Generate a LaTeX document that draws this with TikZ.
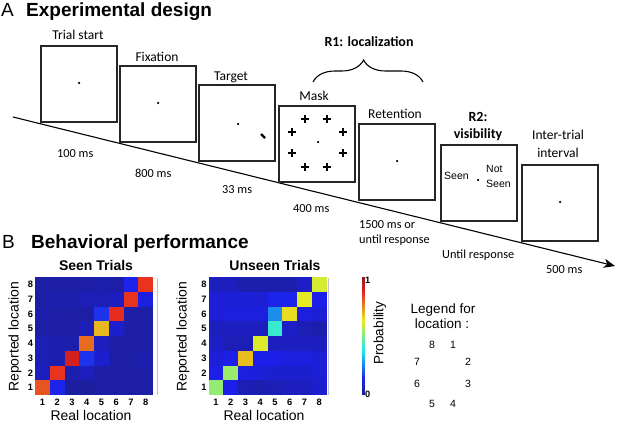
\documentclass[tikz,border=0pt]{standalone}
\usepackage{fontspec}
\usepackage{graphicx}
\setmainfont{Liberation Sans}
\newfontfamily\calfont{Carlito}
\usetikzlibrary{decorations.pathreplacing,arrows.meta}
\newcommand{\setjet}[1]{%
  \pgfmathsetmacro{\jr}{0.8*max(0,min(1,1.5-abs(4*(#1)-3)))+0.11}%
  \pgfmathsetmacro{\jg}{0.8*max(0,min(1,1.5-abs(4*(#1)-2)))+0.12}%
  \pgfmathsetmacro{\jb}{0.8*max(0,min(1,1.5-abs(4*(#1)-1)))+0.12}%
  \definecolor{jetc}{rgb}{\jr,\jg,\jb}}
\tikzset{
  scr/.style={draw=black!85, line width=1.1pt, minimum size=76pt, inner sep=0pt},
  lab/.style={font=\calfont\fontsize{13.5}{15}\selectfont, anchor=base, inner sep=0pt},
  blab/.style={font=\calfont\bfseries\fontsize{14}{16}\selectfont, anchor=base, inner sep=0pt},
  tlab/.style={font=\calfont\fontsize{12.3}{14}\selectfont, anchor=base west, inner sep=0pt},
  head/.style={font=\bfseries\fontsize{19}{22}\selectfont, anchor=base west, inner sep=0pt},
  headl/.style={font=\fontsize{19}{22}\selectfont, anchor=base west, inner sep=0pt},
  mtitle/.style={font=\bfseries\fontsize{14}{16}\selectfont, anchor=base, inner sep=0pt},
  axl/.style={font=\fontsize{14}{16}\selectfont, inner sep=0pt},
  tick/.style={font=\bfseries\fontsize{9.3}{11}\selectfont, inner sep=0pt},
  leg/.style={font=\fontsize{13.5}{15}\selectfont, anchor=base, inner sep=0pt},
  legn/.style={font=\fontsize{10.5}{12}\selectfont, anchor=base, inner sep=0pt},
  dot/.style={fill=black, circle, inner sep=0pt, minimum size=2.5pt},
  crs/.style={line width=1.6pt},
}
\begin{document}
\begin{tikzpicture}[x=1pt,y=-1pt]
\useasboundingbox (0,0) rectangle (617,425);
% headings
\node[headl] (hA) at (1,17) {A};
\node[head] (hAt) at (26,17) {Experimental design};
\node[headl] (hB) at (2,248) {B};
\node[head] (hBt) at (31,248) {Behavioral performance};
% timeline
\coordinate (t0) at (13,117);
\coordinate (t1) at (615,266);
\draw[line width=1.1pt, -{Stealth[length=11pt,width=9pt,inset=3pt]}] (t0) -- (t1);
% screens
\node[scr] (s1) at (79,84) {};
\node[scr] (s2) at (158,104) {};
\node[scr] (s3) at (237,123) {};
\node[scr] (s4) at (317,144) {};
\node[scr] (s5) at (397,162) {};
\node[scr] (s6) at (479,183) {};
\node[scr] (s7) at (560,203) {};
% dots
\node[dot] (d1) at (79,83) {};
\node[dot] (d2) at (158,103) {};
\node[dot] (d3) at (238,124) {};
\node[dot] (d4) at (318,142) {};
\node[dot] (d5) at (397,161) {};
\node[dot] (d6) at (478,180) {};
\node[dot] (d7) at (560,202) {};
% target
\coordinate (ta) at (261,134);
\coordinate (tb) at (265,138);
\draw[line width=2.2pt] (ta) -- (tb);
% mask crosses
\foreach \px/\py in {305/119,327/119,292/132,343/132,292/153,343/153,305/167,327/167}{
  \draw[crs] (\px-4,\py) -- (\px+4,\py);
  \draw[crs] (\px,\py-4) -- (\px,\py+4);
}
% screen labels
\node[lab] (l1) at (78,40) {Trial start};
\node[lab] (l2) at (157,61.5) {Fixation};
\node[lab] (l3) at (231,80.5) {Target};
\node[lab] (l4) at (314,100) {Mask};
\node[lab] (l5) at (395,118) {Retention};
\node[blab] (l6a) at (478,121) {R2:};
\node[blab] (l6b) at (478,138.5) {visibility};
\node[lab] (l7a) at (558,139) {Inter-trial};
\node[lab] (l7b) at (558,157) {interval};
\node[blab] (r1) at (369,47) {R1: localization};
\coordinate (br0) at (313,82);
\coordinate (br1) at (423,82);
\draw[line width=1.1pt, decorate, decoration={brace, amplitude=22pt, aspect=0.46}] (br0) -- (br1);
% inside R2 screen
\node[legn, anchor=base west] (sn) at (444,179) {Seen};
\node[legn, anchor=base west] (ns1) at (486,172) {Not};
\node[legn, anchor=base west] (ns2) at (486,187) {Seen};
% durations
\node[tlab] (m1) at (57,157) {100 ms};
\node[tlab] (m2) at (135,177) {800 ms};
\node[tlab] (m3) at (222,193) {33 ms};
\node[tlab] (m4) at (293,212) {400 ms};
\node[tlab] (m5a) at (359,228) {1500 ms or};
\node[tlab] (m5b) at (359,243) {until response};
\node[tlab] (m6) at (442,258) {Until response};
\node[tlab] (m7) at (546,273) {500 ms};
% matrices
\def\cs{14.75}
\foreach \r/\vals in {8/{0.04,0.04,0.04,0.04,0.05,0.04,0.13,0.85},
                     7/{0.04,0.05,0.05,0.06,0.06,0.07,0.85,0.11},
                     6/{0.05,0.04,0.04,0.04,0.15,0.86,0.04,0.04},
                     5/{0.04,0.04,0.04,0.06,0.69,0.09,0.04,0.04},
                     4/{0.06,0.05,0.05,0.78,0.07,0.04,0.04,0.04},
                     3/{0.06,0.05,0.90,0.15,0.09,0.04,0.04,0.05},
                     2/{0.07,0.85,0.05,0.07,0.04,0.04,0.04,0.04},
                     1/{0.81,0.13,0.03,0.03,0.04,0.04,0.04,0.04}}{
  \foreach \v [count=\c] in \vals {
    \setjet{\v}
    \fill[jetc] ({35+(\c-1)*\cs},{277+(8-\r)*\cs}) rectangle ({35+\c*\cs+0.3},{277+(9-\r)*\cs+0.3});
  }
}
\foreach \r/\vals in {8/{0.07,0.07,0.05,0.05,0.05,0.05,0.08,0.60},
                     7/{0.10,0.10,0.10,0.10,0.13,0.13,0.62,0.12},
                     6/{0.10,0.11,0.11,0.11,0.26,0.64,0.11,0.10},
                     5/{0.07,0.07,0.07,0.07,0.41,0.08,0.06,0.05},
                     4/{0.08,0.06,0.06,0.61,0.07,0.07,0.07,0.07},
                     3/{0.10,0.12,0.68,0.12,0.12,0.11,0.11,0.10},
                     2/{0.12,0.53,0.11,0.10,0.09,0.09,0.09,0.10},
                     1/{0.52,0.12,0.06,0.05,0.06,0.07,0.07,0.09}}{
  \foreach \v [count=\c] in \vals {
    \setjet{\v}
    \fill[jetc] ({208.5+(\c-1)*\cs},{277+(8-\r)*\cs}) rectangle ({208.5+\c*\cs+0.3},{277+(9-\r)*\cs+0.3});
  }
}
\coordinate (e1a) at (157,278);
\coordinate (e1b) at (157,395);
\coordinate (e2a) at (328,278);
\coordinate (e2b) at (328,395);
\draw[blue!25!gray!40, line width=0.8pt] (e1a) -- (e1b);
\draw[blue!25!gray!40, line width=0.8pt] (e2a) -- (e2b);
% tick labels
\foreach \k in {1,...,8}{
  \node[tick] (sx\k) at ({35+(\k-0.5)*\cs},402) {\k};
  \node[tick] (sy\k) at (30.5,{277+(8.5-\k)*\cs}) {\k};
  \node[tick] (ux\k) at ({208.5+(\k-0.5)*\cs},402) {\k};
  \node[tick] (uy\k) at (204,{277+(8.5-\k)*\cs}) {\k};
}
\node[mtitle] (st) at (96,270) {Seen Trials};
\node[mtitle] (ut) at (275,270) {Unseen Trials};
\node[axl, rotate=90] (sr) at (15,337) {Reported location};
\node[axl, rotate=90] (ur) at (183,337) {Reported location};
\node[axl, anchor=base] (sxl) at (91,420) {Real location};
\node[axl, anchor=base] (uxl) at (264,420) {Real location};
% colorbar
\foreach \i in {0,...,49}{
  \setjet{(\i+0.5)/50}
  \fill[jetc] (362,{395-\i*2.36}) rectangle (365,{395-(\i+1)*2.36-0.3});
}
\node[tick, anchor=west] (cb1) at (365,280) {1};
\node[tick, anchor=west] (cb0) at (365,394) {0};
\node[axl, rotate=90, font=\fontsize{13.5}{15}\selectfont] (prob) at (380,333) {Probability};
% legend
\node[leg] (lg1) at (443,313) {Legend for};
\node[leg] (lg2) at (442,328) {location :};
\node[legn] (n8) at (432,348) {8};
\node[legn] (n1) at (453,348) {1};
\node[legn] (n7) at (417,365) {7};
\node[legn] (n2) at (468,365) {2};
\node[legn] (n6) at (417,387) {6};
\node[legn] (n3) at (468,387) {3};
\node[legn] (n5) at (432,407) {5};
\node[legn] (n4) at (453,407) {4};
\end{tikzpicture}
\end{document}
